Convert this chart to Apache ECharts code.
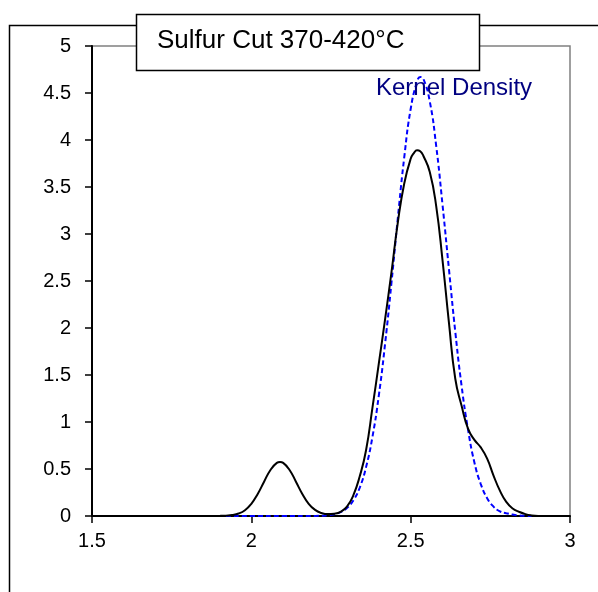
<!DOCTYPE html>
<html>
<head>
<meta charset="utf-8">
<script src="https://cdn.jsdelivr.net/npm/echarts@6/dist/echarts.min.js"></script>
<style>
html,body{margin:0;padding:0;background:#fff;}
#chart{width:598px;height:592px;}
</style>
</head>
<body>
<div id="chart"></div>
<script>
const titleText = "Sulfur Cut 370-420°C";
const legendText = "Kernel Density";
const xTicks = [1.5, 2, 2.5, 3];
const yTicks = [0, 0.5, 1, 1.5, 2, 2.5, 3, 3.5, 4, 4.5, 5];

// Black solid curve (x, density)
const blackX = [1.88, 1.90, 1.92, 1.94, 1.96, 1.98, 2.00, 2.02, 2.04, 2.06, 2.08, 2.09, 2.10, 2.12, 2.14, 2.16, 2.18, 2.20, 2.22, 2.24, 2.26, 2.28, 2.30, 2.32, 2.34, 2.36, 2.38, 2.40, 2.42, 2.44, 2.46, 2.48, 2.50, 2.51, 2.52, 2.53, 2.54, 2.56, 2.58, 2.60, 2.62, 2.64, 2.66, 2.68, 2.70, 2.72, 2.74, 2.76, 2.78, 2.80, 2.82, 2.84, 2.86, 2.88, 2.90];
const blackY = [0, 0.001, 0.004, 0.01, 0.026, 0.062, 0.13, 0.235, 0.365, 0.49, 0.565, 0.575, 0.565, 0.49, 0.365, 0.235, 0.13, 0.065, 0.032, 0.02, 0.025, 0.045, 0.10, 0.22, 0.42, 0.70, 1.15, 1.62, 2.10, 2.60, 3.13, 3.54, 3.80, 3.86, 3.89, 3.88, 3.83, 3.66, 3.30, 2.72, 2.06, 1.46, 1.17, 0.93, 0.81, 0.73, 0.61, 0.43, 0.27, 0.15, 0.08, 0.045, 0.02, 0.006, 0];

// Blue dashed kernel density curve
const blueX = [1.92, 2.00, 2.10, 2.20, 2.24, 2.26, 2.28, 2.30, 2.32, 2.34, 2.36, 2.38, 2.40, 2.42, 2.44, 2.46, 2.48, 2.50, 2.52, 2.53, 2.54, 2.56, 2.58, 2.60, 2.62, 2.64, 2.66, 2.68, 2.70, 2.72, 2.74, 2.76, 2.78, 2.80, 2.82, 2.84, 2.86, 2.88];
const blueY = [0, 0, 0, 0.001, 0.008, 0.019, 0.042, 0.085, 0.165, 0.30, 0.52, 0.84, 1.28, 1.84, 2.49, 3.18, 3.82, 4.33, 4.62, 4.67, 4.65, 4.41, 3.94, 3.31, 2.63, 1.96, 1.38, 0.92, 0.57, 0.34, 0.19, 0.10, 0.05, 0.03, 0.015, 0.006, 0.002, 0];

const pairs = (xs, ys) => xs.map((x, i) => [x, ys[i]]);
const FONT = "'Liberation Sans', Arial, sans-serif";

const chart = echarts.init(document.getElementById('chart'), null, {renderer: 'canvas'});
chart.setOption({
  animation: false,
  backgroundColor: '#fff',
  grid: {left: 92, right: 28, top: 46, bottom: 76, show: true, borderColor: '#808080', borderWidth: 1.5, backgroundColor: 'transparent'},
  xAxis: {
    type: 'value', min: 1.5, max: 3, interval: 0.5,
    axisLine: {show: true, onZero: false, lineStyle: {color: '#000', width: 2}},
    axisTick: {show: true, inside: false, length: 7, lineStyle: {color: '#000', width: 1.5}},
    axisLabel: {color: '#000', fontSize: 20, fontFamily: FONT, margin: 15,
      formatter: v => xTicks.includes(v) ? String(v) : ''},
    splitLine: {show: false}
  },
  yAxis: {
    type: 'value', min: 0, max: 5, interval: 0.5,
    axisLine: {show: true, lineStyle: {color: '#000', width: 2}},
    axisTick: {show: true, inside: false, length: 7, lineStyle: {color: '#000', width: 1.5}},
    axisLabel: {color: '#000', fontSize: 20, fontFamily: FONT, margin: 21,
      formatter: v => yTicks.includes(v) ? String(v) : ''},
    splitLine: {show: false}
  },
  series: [
    {
      type: 'line', data: pairs(blueX, blueY), showSymbol: false, smooth: 0.5,
      lineStyle: {color: '#0000ff', width: 2, type: [5, 3]}, z: 3
    },
    {
      type: 'line', data: pairs(blackX, blackY), showSymbol: false, smooth: 0.5,
      lineStyle: {color: '#000', width: 2}, z: 4
    }
  ],
  graphic: [
    {type: 'rect', shape: {x: 9.5, y: 25.5, width: 620, height: 620}, style: {fill: 'none', stroke: '#000', lineWidth: 1.5}, z: -10, silent: true},
    {type: 'rect', shape: {x: 136.5, y: 14.5, width: 343, height: 56}, style: {fill: '#fff', stroke: '#000', lineWidth: 1.5}, z: 100},
    {type: 'text', x: 157, y: 41, style: {text: titleText, font: "26px " + FONT, fill: '#000', textVerticalAlign: 'middle', verticalAlign: 'middle'}, z: 101},
    {type: 'text', x: 376, y: 88, style: {text: legendText, font: "24px " + FONT, fill: '#000080', textVerticalAlign: 'middle', verticalAlign: 'middle'}, z: 101}
  ]
});
</script>
</body>
</html>
